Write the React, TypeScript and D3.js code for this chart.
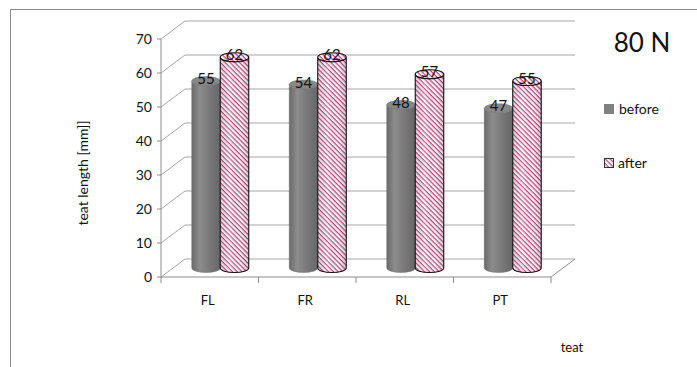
import React from "react";
import * as d3 from "d3";

const categories = ["FL", "FR", "RL", "PT"];
const seriesNames = ["before", "after"];
const beforeValues = [55, 54, 48, 47];
const afterValues = [62, 62, 57, 55];
const yTicks = [0, 10, 20, 30, 40, 50, 60, 70];
const chartTitle = "80 N";
const yTitle = "teat length [mm]]";
const xTitle = "teat";

const W = 697;
const H = 367;
const DX = 24; // depth offset of the back wall
const DY = -18;
const FONT = "Lato, 'Open Sans', sans-serif";

export default function App() {
  const y = d3.scaleLinear().domain([0, 70]).range([277, 39]);
  const x = d3.scaleBand<string>().domain(categories).range([161, 551]);
  const inner = d3.scaleBand<string>().domain(seriesNames).range([-30, 27]);
  const rx = inner.bandwidth() / 2;
  const ry = 4.5;
  const mdx = DX / 2;
  const mdy = DY / 2;

  const series = [
    { name: "before", values: beforeValues },
    { name: "after", values: afterValues },
  ];

  const cylinder = (cx: number, v: number) => {
    const top = y(v) + mdy;
    const bot = y(0) + mdy;
    const l = cx - rx;
    const r = cx + rx;
    return `M${l},${top} L${l},${bot} A${rx},${ry} 0 0 0 ${r},${bot} L${r},${top} A${rx},${ry} 0 0 1 ${l},${top} Z`;
  };

  const gridColor = "#a6a6a6";
  const axisColor = "#8c8c8c";

  return (
    <svg width={W} height={H} style={{ position: "absolute", left: 0, top: 0, background: "#fff" }}>
      <defs>
        <linearGradient id="grayCyl" x1="0" x2="1" y1="0" y2="0">
          <stop offset="0%" stopColor="#6a6a6a" />
          <stop offset="28%" stopColor="#8c8c8c" />
          <stop offset="55%" stopColor="#7d7d7d" />
          <stop offset="100%" stopColor="#666" />
        </linearGradient>
        <pattern id="hatch" patternUnits="userSpaceOnUse" width="3.4" height="3.4" patternTransform="rotate(45)">
          <rect width="3.4" height="3.4" fill="#fdf6f9" />
          <rect width="3.4" height="1.2" fill="#b8467f" />
        </pattern>
        <linearGradient id="pinkShade" x1="0" x2="1" y1="0" y2="0">
          <stop offset="0%" stopColor="#000" stopOpacity="0.12" />
          <stop offset="35%" stopColor="#fff" stopOpacity="0.15" />
          <stop offset="70%" stopColor="#000" stopOpacity="0" />
          <stop offset="100%" stopColor="#000" stopOpacity="0.15" />
        </linearGradient>
      </defs>

      {/* outer frame */}
      <path d={`M10.5,${H + 2} L10.5,9.5 L${W + 2},9.5`} fill="none" stroke="#8c8c8c" strokeWidth={1} />

      {/* back wall grid and left wall diagonals */}
      {yTicks.map((t) => (
        <g key={`g${t}`}>
          <line x1={161} y1={y(t)} x2={161 + DX} y2={y(t) + DY} stroke={gridColor} />
          <line x1={161 + DX} y1={y(t) + DY} x2={551 + DX} y2={y(t) + DY} stroke={gridColor} />
        </g>
      ))}
      {/* floor */}
      <line x1={161} y1={y(0)} x2={551} y2={y(0)} stroke={axisColor} />
      <line x1={551} y1={y(0)} x2={551 + DX} y2={y(0) + DY} stroke={axisColor} />

      {/* y axis */}
      <line x1={161} y1={y(0)} x2={161} y2={y(70)} stroke={axisColor} />
      {yTicks.map((t) => (
        <g key={`t${t}`}>
          <line x1={157} y1={y(t)} x2={161} y2={y(t)} stroke={axisColor} />
          <text x={152} y={y(t)} dy="0.35em" textAnchor="end" fontFamily={FONT} fontSize={14} fill="#111">
            {t}
          </text>
        </g>
      ))}

      {/* x axis ticks & labels */}
      {[...categories.map((c) => x(c) as number), 551].map((px, i) => (
        <line key={`xt${i}`} x1={px} y1={y(0)} x2={px} y2={y(0) + 6} stroke={axisColor} />
      ))}
      {categories.map((c) => (
        <text key={`xl${c}`} x={(x(c) as number) + x.bandwidth() / 2 - 2} y={305} textAnchor="middle" fontFamily={FONT} fontSize={13} fill="#111">
          {c}
        </text>
      ))}

      {/* cylinders */}
      {categories.map((c, i) => (
        <g key={`c${c}`}>
          {series.map((s) => {
            const cx = (x(c) as number) + x.bandwidth() / 2 + mdx + (inner(s.name) as number) + rx;
            const v = s.values[i];
            const top = y(v) + mdy;
            if (s.name === "before") {
              return (
                <g key={s.name}>
                  <path d={cylinder(cx, v)} fill="url(#grayCyl)" stroke="#6e6e6e" strokeWidth={0.5} />
                  <ellipse cx={cx} cy={top} rx={rx} ry={ry} fill="#878787" stroke="#6e6e6e" strokeWidth={0.5} />
                </g>
              );
            }
            return (
              <g key={s.name}>
                <path d={cylinder(cx, v)} fill="url(#hatch)" />
                <path d={cylinder(cx, v)} fill="url(#pinkShade)" stroke="#111" strokeWidth={1.1} />
                <ellipse cx={cx} cy={top} rx={rx} ry={ry} fill="url(#hatch)" stroke="#111" strokeWidth={1.1} />
              </g>
            );
          })}
          {series.map((s) => {
            const cx = (x(c) as number) + x.bandwidth() / 2 + mdx + (inner(s.name) as number) + rx;
            const v = s.values[i];
            return (
              <text key={`l${s.name}`} x={cx} y={y(v) + mdy - 2} dy="0.35em" textAnchor="middle" fontFamily={FONT} fontSize={15} fill="#111">
                {v}
              </text>
            );
          })}
        </g>
      ))}

      {/* title */}
      <text x={642} y={52} textAnchor="middle" fontFamily={FONT} fontSize={26} fill="#111">
        {chartTitle}
      </text>

      {/* legend */}
      <rect x={604} y={104} width={10} height={10} fill="#808080" />
      <text x={619} y={109} dy="0.35em" fontFamily={FONT} fontSize={14} fill="#111">
        {seriesNames[0]}
      </text>
      <rect x={604.5} y={158.5} width={9} height={9} fill="url(#hatch)" stroke="#333" strokeWidth={1} />
      <text x={618} y={163} dy="0.35em" fontFamily={FONT} fontSize={14} fill="#111">
        {seriesNames[1]}
      </text>

      {/* axis titles */}
      <text transform={`translate(88,173) rotate(-90)`} textAnchor="middle" fontFamily={FONT} fontSize={14} fill="#111">
        {yTitle}
      </text>
      <text x={572} y={352} textAnchor="middle" fontFamily={FONT} fontSize={13} fill="#111">
        {xTitle}
      </text>
    </svg>
  );
}
